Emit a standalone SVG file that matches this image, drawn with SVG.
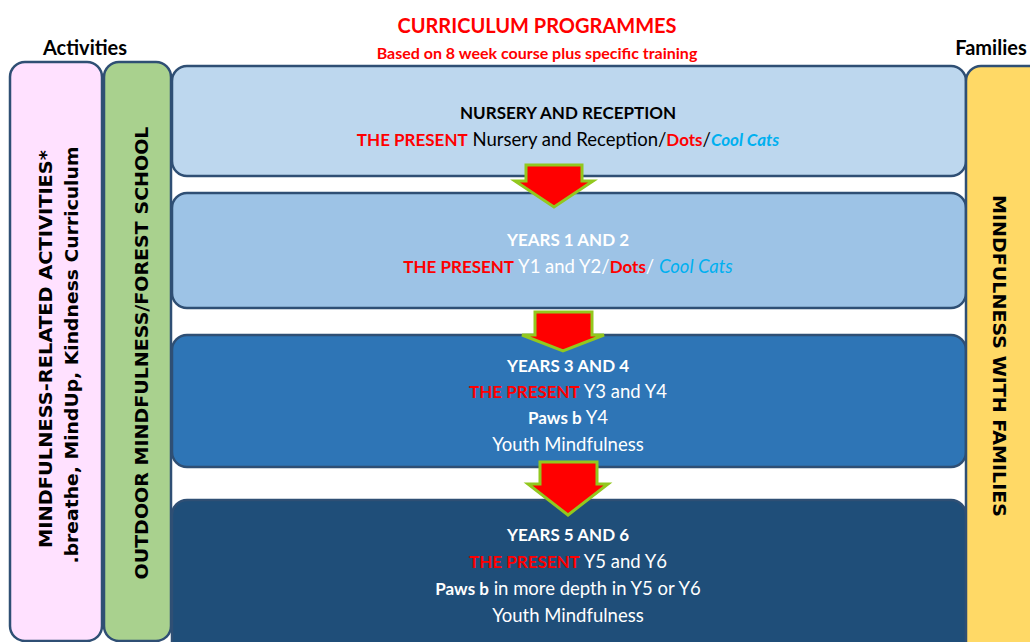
<svg xmlns="http://www.w3.org/2000/svg" width="1030" height="642" viewBox="0 0 1030 642">
  <style>
    .box { stroke: #2f4f74; stroke-width: 2.5; }
    .t { font-family: Lato, "Liberation Sans", sans-serif; text-anchor: middle; font-size: 18.5px; }
    .v { font-family: "DejaVu Sans", "Liberation Sans", sans-serif; font-weight: bold; text-anchor: middle; font-size: 17.5px; fill: #000; }
    .b { font-weight: bold; font-size: 17px; }
    .red { fill: #ff0000; }
    .cyan { fill: #00b0f0; }
    .w { fill: #ffffff; }
    .arrow { fill: #ff0000; stroke: #92c81e; stroke-width: 3; stroke-linejoin: miter; }
  </style>

  <rect width="1030" height="642" fill="#ffffff"/>

  <!-- headings -->
  <g id="title">
    <text class="t b red" x="537" y="33" style="font-size:20px">CURRICULUM PROGRAMMES</text>
    <text class="t b red" x="537" y="59" style="font-size:16px">Based on 8 week course plus specific training</text>
  </g>
  <text class="t b" x="85" y="55" style="font-size:20px">Activities</text>
  <text class="t b" x="991" y="55" style="font-size:20px">Families</text>

  <!-- activities column -->
  <g id="activities">
    <rect class="box" x="10" y="62" width="92" height="579" rx="15" fill="#ffe1ff"/>
    <text class="v" transform="translate(52,349) rotate(-90)" textLength="398" lengthAdjust="spacingAndGlyphs">MINDFULNESS-RELATED ACTIVITIES*</text>
    <text class="v" transform="translate(78,355) rotate(-90)" textLength="417" lengthAdjust="spacingAndGlyphs">.breathe, MindUp, Kindness Curriculum</text>
  </g>

  <g id="outdoor">
    <rect class="box" x="104" y="62" width="67" height="579" rx="15" fill="#a9d18e"/>
    <text class="v" transform="translate(148,353) rotate(-90)" textLength="453" lengthAdjust="spacingAndGlyphs">OUTDOOR MINDFULNESS/FOREST SCHOOL</text>
  </g>

  <!-- year groups -->
  <g id="nursery">
    <rect class="box" x="172" y="66" width="794" height="110" rx="15" fill="#bdd7ee"/>
    <text class="t b" x="568" y="119">NURSERY AND RECEPTION</text>
    <text class="t" x="568" y="146"><tspan class="b red">THE PRESENT</tspan> Nursery and Reception/<tspan class="b red">Dots</tspan>/<tspan class="b cyan" font-style="italic">Cool Cats</tspan></text>
  </g>

  <g id="years12">
    <rect class="box" x="172" y="193" width="794" height="115" rx="15" fill="#9dc3e6"/>
    <text class="t b w" x="568" y="246">YEARS 1 AND 2</text>
    <text class="t w" x="568" y="273"><tspan class="b red">THE PRESENT</tspan> Y1 and Y2/<tspan class="b red">Dots</tspan>/ <tspan class="cyan" font-style="italic">Cool Cats</tspan></text>
  </g>

  <g id="years34">
    <rect class="box" x="172" y="335" width="794" height="132" rx="15" fill="#2e75b6"/>
    <text class="t b w" x="568" y="372">YEARS 3 AND 4</text>
    <text class="t w" x="568" y="398"><tspan class="b red">THE PRESENT</tspan> Y3 and Y4</text>
    <text class="t w" x="568" y="424"><tspan class="b">Paws b</tspan> Y4</text>
    <text class="t w" x="568" y="451">Youth Mindfulness</text>
  </g>

  <g id="years56">
    <rect class="box" x="172" y="500" width="794" height="160" rx="15" fill="#1f4e79"/>
    <text class="t b w" x="568" y="541">YEARS 5 AND 6</text>
    <text class="t w" x="568" y="568"><tspan class="b red">THE PRESENT</tspan> Y5 and Y6</text>
    <text class="t w" x="568" y="595"><tspan class="b">Paws b</tspan> in more depth in Y5 or Y6</text>
    <text class="t w" x="568" y="622">Youth Mindfulness</text>
  </g>

  <!-- families column -->
  <g id="families">
    <rect class="box" x="966" y="66" width="80" height="590" rx="15" fill="#ffd966"/>
    <text class="v" transform="translate(993,356) rotate(90)" textLength="322" lengthAdjust="spacingAndGlyphs">MINDFULNESS WITH FAMILIES</text>
  </g>

  <!-- progression arrows -->
  <g id="connectors">
    <polygon class="arrow" points="526,165 582,165 582,181 593,181 554,207 515,181 526,181"/>
    <polygon class="arrow" points="535,312 592,312 592,335 604,335 563,351 522,335 535,335"/>
    <polygon class="arrow" points="540,462 597,462 597,484 608,484 568,515 528,484 540,484"/>
  </g>
</svg>
